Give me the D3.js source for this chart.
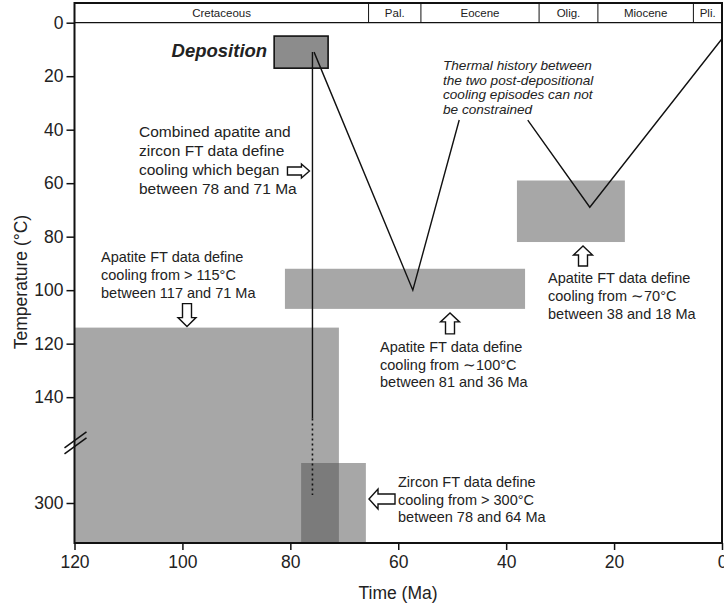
<!DOCTYPE html>
<html>
<head>
<meta charset="utf-8">
<script src="https://cdn.jsdelivr.net/npm/d3@7"></script>
<style>
body { margin: 0; background: #fff; }
text { font-family: "Liberation Sans", Arial, sans-serif; fill: #222; }
</style>
</head>
<body>
<div id="chart"></div>
<script>
// time axis (Ma) and temperature axis (deg C)
var xTicks = [120, 100, 80, 60, 40, 20, 0];
var yTicks = [0, 20, 40, 60, 80, 100, 120, 140, 300];

// epoch strip along the top
var epochNames = ["Cretaceous", "Pal.", "Eocene", "Olig.", "Miocene", "Pli."];
var epochBounds = [120, 65.5, 55.8, 33.9, 23.0, 5.3, 0];

// fission track boxes: age range (Ma) and temperature range (C)
var ftBoxNames = ["apatite115", "apatite100", "apatite70", "zircon300"];
var ftBoxOld = [120, 81, 38, 78];
var ftBoxYoung = [71, 36.5, 18, 66];
var ftBoxTempTop = [114, 92, 59, 285];
var ftBoxTempBottom = [315, 107, 82, 315];

// deposition box
var depoAge = [83, 73];
var depoTemp = [5, 17];

// thermal history path, two constrained parts
var pathAAge = [75.6, 57.3, 48.7];
var pathATemp = [11, 100, 36.4];
var pathBAge = [36.0, 24.5, 0];
var pathBTemp = [36.4, 69, 6];

// vertical line through the zircon/apatite overlap
var vlineAge = 75.9;
var vlineSolid = [11, 148];
var vlineDotted = [148, 297];

var W = 724, H = 604;

var svg = d3.select("#chart")
	.append("svg")
	.attr("width", W)
	.attr("height", H);

var x = d3.scaleLinear().domain([120, 0]).range([74.5, 722]);
// broken temperature axis: 0-158 then 282-315
var y = d3.scaleLinear().domain([0, 158, 282, 315]).range([22.7, 445.3, 455, 543]);

var frameTop = 3;

// grey boxes
var boxG = svg.append("g");
ftBoxNames.forEach(function (n, i) {
	boxG.append("rect")
		.attr("class", "ft-box " + n)
		.attr("x", x(ftBoxOld[i]))
		.attr("y", y(ftBoxTempTop[i]))
		.attr("width", x(ftBoxYoung[i]) - x(ftBoxOld[i]))
		.attr("height", y(ftBoxTempBottom[i]) - y(ftBoxTempTop[i]))
		.style("fill", "#505050")
		.style("fill-opacity", 0.5);
});

svg.append("rect")
	.attr("x", x(depoAge[0]))
	.attr("y", y(depoTemp[0]))
	.attr("width", x(depoAge[1]) - x(depoAge[0]))
	.attr("height", y(depoTemp[1]) - y(depoTemp[0]))
	.style("fill", "#8c8c8c")
	.style("stroke", "#111")
	.style("stroke-width", 1.6);

// vertical line
svg.append("line")
	.attr("x1", x(vlineAge)).attr("x2", x(vlineAge))
	.attr("y1", y(vlineSolid[0])).attr("y2", y(vlineSolid[1]))
	.style("stroke", "#111").style("stroke-width", 1.4);
svg.append("line")
	.attr("x1", x(vlineAge)).attr("x2", x(vlineAge))
	.attr("y1", y(vlineDotted[0])).attr("y2", y(vlineDotted[1]))
	.style("stroke", "#111").style("stroke-width", 1.6)
	.style("stroke-dasharray", "2,3");

// thermal history lines
var line = d3.line()
	.x(function (d) { return x(d[0]); })
	.y(function (d) { return y(d[1]); });
svg.append("path")
	.attr("d", line(d3.zip(pathAAge, pathATemp)))
	.style("fill", "none").style("stroke", "#111").style("stroke-width", 1.4);
svg.append("path")
	.attr("d", line(d3.zip(pathBAge, pathBTemp)))
	.style("fill", "none").style("stroke", "#111").style("stroke-width", 1.4);

// epoch strip
var strip = svg.append("g");
strip.append("line")
	.attr("x1", x(120)).attr("x2", x(0))
	.attr("y1", y(0)).attr("y2", y(0))
	.style("stroke", "#111").style("stroke-width", 1.2);
epochBounds.slice(1, -1).forEach(function (b) {
	strip.append("line")
		.attr("x1", x(b)).attr("x2", x(b))
		.attr("y1", frameTop).attr("y2", y(0))
		.style("stroke", "#111").style("stroke-width", 1);
});
epochNames.forEach(function (n, i) {
	strip.append("text")
		.attr("x", (x(epochBounds[i]) + x(epochBounds[i + 1])) / 2)
		.attr("y", 17)
		.attr("text-anchor", "middle")
		.style("font-size", "11.5px")
		.text(n);
});

// frame
svg.append("rect")
	.attr("x", x(120)).attr("y", frameTop)
	.attr("width", x(0) - x(120)).attr("height", y(315) - frameTop)
	.style("fill", "none").style("stroke", "#111").style("stroke-width", 2);

// x axis
var xAxis = svg.append("g")
	.attr("transform", "translate(0," + y(315) + ")")
	.call(d3.axisBottom(x).tickValues(xTicks).tickSize(7).tickPadding(6).tickFormat(d3.format("d")));
xAxis.select(".domain").remove();
xAxis.selectAll("line").style("stroke", "#111").style("stroke-width", 1.5);
xAxis.selectAll("text").style("font-size", "17.5px").style("fill", "#222")
	.style("font-family", "'Liberation Sans', Arial, sans-serif");

// y axis
var yAxis = svg.append("g")
	.attr("transform", "translate(" + x(120) + ",0)")
	.call(d3.axisLeft(y).tickValues(yTicks).tickSize(8).tickPadding(3).tickFormat(d3.format("d")));
yAxis.select(".domain").remove();
yAxis.selectAll("line").style("stroke", "#111").style("stroke-width", 1.5);
yAxis.selectAll("text").style("font-size", "17.5px").style("fill", "#222")
	.style("font-family", "'Liberation Sans', Arial, sans-serif");

// axis break marks
[0, 6].forEach(function (o) {
	svg.append("line")
		.attr("x1", x(120) - 10).attr("y1", y(156) + o + 8)
		.attr("x2", x(120) + 12).attr("y2", y(156) + o - 8)
		.style("stroke", "#111").style("stroke-width", 1.5);
});

svg.append("text")
	.attr("transform", "translate(27," + 282 + ") rotate(-90)")
	.attr("text-anchor", "middle")
	.style("font-size", "17.5px")
	.text("Temperature (\u00B0C)");
svg.append("text")
	.attr("x", 398).attr("y", 599)
	.attr("text-anchor", "middle")
	.style("font-size", "17.5px")
	.text("Time (Ma)");

// Deposition label
svg.append("text")
	.attr("x", x(depoAge[0]) - 7).attr("y", 57)
	.attr("text-anchor", "end")
	.style("font-size", "18.5px").style("font-weight", "bold").style("font-style", "italic")
	.text("Deposition");

// block arrows, tip at (tx,ty)
function blockArrow(tx, ty, angle, len, hl, hw, sw) {
	var pts = [[0, 0], [-hl, -hw], [-hl, -sw], [-len, -sw], [-len, sw], [-hl, sw], [-hl, hw]];
	svg.append("path")
		.attr("d", "M" + pts.join("L") + "Z")
		.attr("transform", "translate(" + tx + "," + ty + ") rotate(" + angle + ")")
		.style("fill", "#fff").style("stroke", "#111").style("stroke-width", 1.4);
}
blockArrow(x(vlineAge) - 3, 171, 0, 22, 8, 7, 4);
blockArrow(187, y(ftBoxTempTop[0]) - 1, 90, 23, 9, 9, 4.5);
blockArrow(450, y(ftBoxTempBottom[1]) + 4, -90, 21, 9, 9.5, 4.5);
blockArrow(583, y(ftBoxTempBottom[2]) + 4, -90, 20, 9, 9.5, 4.5);
blockArrow(369, 499, 180, 26, 9, 10, 5);

// annotations
function note(tx, ty, lines, size, lh, italic) {
	var t = svg.append("text")
		.attr("x", tx).attr("y", ty)
		.style("font-size", size + "px")
		.style("font-style", italic ? "italic" : "normal");
	lines.forEach(function (l, i) {
		t.append("tspan").attr("x", tx).attr("dy", i === 0 ? 0 : lh).text(l);
	});
}
note(139, 137, ["Combined apatite and", "zircon FT data define", "cooling which began", "between 78 and 71 Ma"], 15.5, 19);
note(101, 262, ["Apatite FT data define", "cooling from > 115\u00B0C", "between 117 and 71 Ma"], 14.5, 18);
note(380, 352, ["Apatite FT data define", "cooling from \u223C100\u00B0C", "between 81 and 36 Ma"], 14.5, 17.5);
note(548, 283, ["Apatite FT data define", "cooling from \u223C70\u00B0C", "between 38 and 18 Ma"], 14.5, 18);
note(398, 487, ["Zircon FT data define", "cooling from > 300\u00B0C", "between 78 and 64 Ma"], 14.5, 17.7);
note(443, 70, ["Thermal history between", "the two post-depositional", "cooling episodes can not", "be constrained"], 13.6, 14.5, true);
</script>
</body>
</html>
